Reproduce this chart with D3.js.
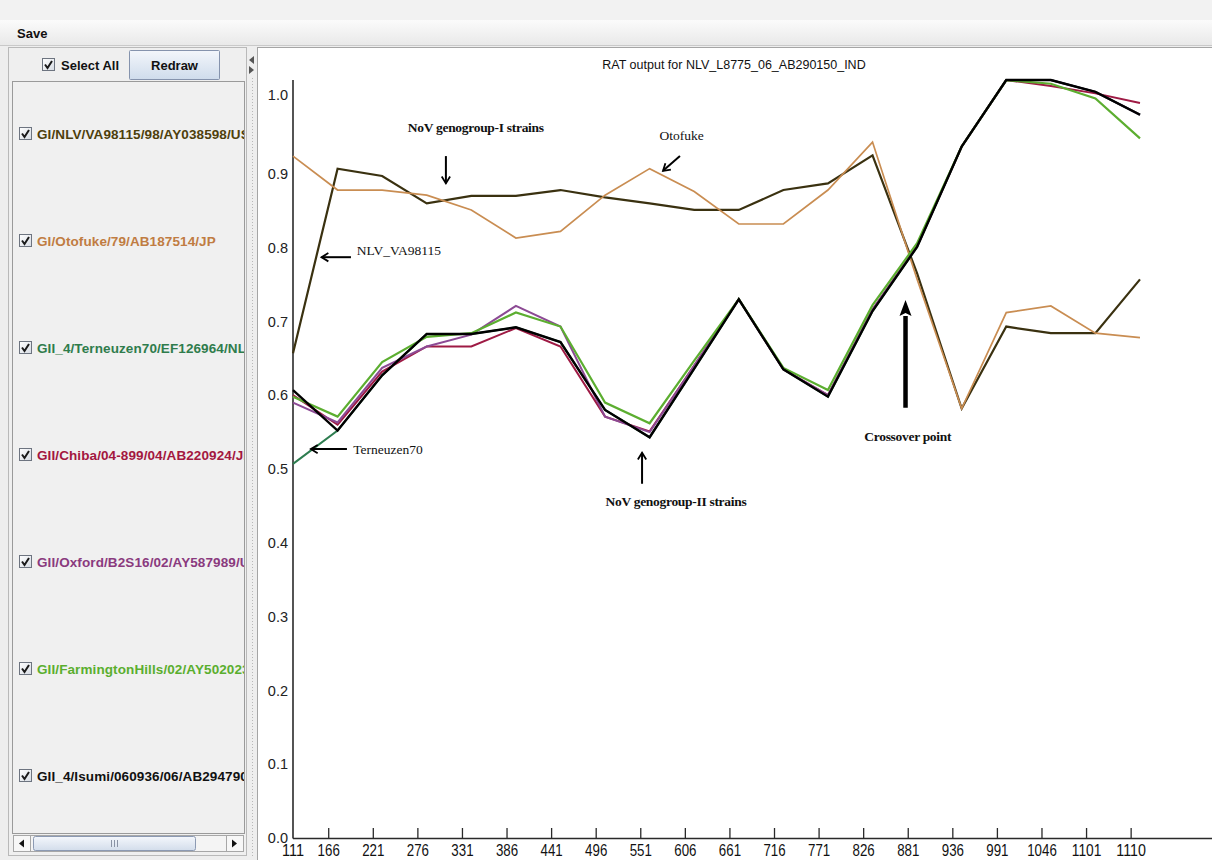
<!DOCTYPE html>
<html>
<head>
<meta charset="utf-8">
<script src="https://cdn.jsdelivr.net/npm/d3@7"></script>
<style>
  html, body { margin: 0; padding: 0; background: #eeeeee; }
  svg { display: block; }
</style>
</head>
<body>
<svg id="app" width="1212" height="860"></svg>
<script>
// ---- data ----------------------------------------------------------------
const seriesNames = [
  "GI/NLV/VA98115/98/AY038598/US",
  "GI/Otofuke/79/AB187514/JP",
  "GII_4/Terneuzen70/EF126964/NL",
  "GII/Chiba/04-899/04/AB220924/JP",
  "GII/Oxford/B2S16/02/AY587989/UK",
  "GII/FarmingtonHills/02/AY502023/US",
  "GII_4/Isumi/060936/06/AB294790/JP"
];
const seriesColors = ["#3a3110", "#c98d52", "#2e7d50", "#9e1a44", "#8c4a94", "#5cae30", "#000000"];
const labelColors  = ["#4e3f0c", "#c07c42", "#2f7c4c", "#a3173f", "#8a3a7e", "#5aae2e", "#111111"];

const nlv        = [0.657, 0.907, 0.897, 0.860, 0.870, 0.870, 0.878, 0.868, 0.860, 0.851, 0.851, 0.878, 0.887, 0.925, 0.765, 0.582, 0.693, 0.684, 0.684, 0.757];
const otofuke    = [0.924, 0.878, 0.878, 0.871, 0.851, 0.813, 0.822, 0.871, 0.907, 0.876, 0.832, 0.832, 0.878, 0.943, 0.757, 0.582, 0.712, 0.721, 0.684, 0.678];
const terneuzen  = [0.507, 0.552, 0.627, 0.683, 0.683, 0.692, 0.672, 0.580, 0.543, 0.636, 0.730, 0.635, 0.598, 0.714, 0.801, 0.937, 1.027, 1.027, 1.011, 0.980];
const chiba      = [0.600, 0.560, 0.632, 0.666, 0.666, 0.691, 0.666, 0.571, 0.551, 0.640, 0.730, 0.635, 0.600, 0.716, 0.802, 0.937, 1.027, 1.019, 1.009, 0.996];
const oxford     = [0.590, 0.563, 0.637, 0.666, 0.682, 0.721, 0.693, 0.571, 0.550, 0.640, 0.730, 0.635, 0.600, 0.716, 0.802, 0.937, 1.027, 1.027, 1.011, 0.980];
const farmington = [0.598, 0.571, 0.645, 0.679, 0.684, 0.712, 0.693, 0.590, 0.562, 0.647, 0.730, 0.637, 0.607, 0.722, 0.806, 0.937, 1.027, 1.022, 1.002, 0.948];
const isumi      = [0.607, 0.552, 0.627, 0.683, 0.683, 0.692, 0.672, 0.580, 0.543, 0.636, 0.730, 0.635, 0.598, 0.714, 0.801, 0.937, 1.027, 1.027, 1.011, 0.980];

const xOriginLabel = "111";
const xTickLabels = ["166","221","276","331","386","441","496","551","606","661","716","771","826","881","936","991","1046","1101","1110"];
const yTickValues = [0.0, 0.1, 0.2, 0.3, 0.4, 0.5, 0.6, 0.7, 0.8, 0.9, 1.0];

const chartTitle = "RAT output for NLV_L8775_06_AB290150_IND";

// annotations placed in data space: [x index, value]
const annotations = [
  { text: "NoV genogroup-I strains", at: [4.10, 0.957], anchor: "middle", bold: true,
    arrow: { from: [3.43, 0.924], to: [3.43, 0.887], thick: false } },
  { text: "Otofuke", at: [8.72, 0.946], anchor: "middle", bold: false,
    arrow: { from: [8.68, 0.924], to: [8.30, 0.904], thick: false } },
  { text: "NLV_VA98115", at: [1.43, 0.790], anchor: "start", bold: false,
    arrow: { from: [1.30, 0.787], to: [0.64, 0.787], thick: false } },
  { text: "Terneuzen70", at: [1.35, 0.521], anchor: "start", bold: false,
    arrow: { from: [1.21, 0.527], to: [0.40, 0.527], thick: false } },
  { text: "NoV genogroup-II strains", at: [8.59, 0.450], anchor: "middle", bold: true,
    arrow: { from: [7.83, 0.480], to: [7.83, 0.522], thick: false } },
  { text: "Crossover point", at: [13.79, 0.538], anchor: "middle", bold: true,
    arrow: { from: [13.74, 0.583], to: [13.74, 0.729], thick: true } }
];

const allSeries = [nlv, otofuke, terneuzen, chiba, oxford, farmington, isumi];
const lineWidths = [2.2, 1.7, 2.0, 2.0, 2.0, 2.2, 2.4];

// ---- layout --------------------------------------------------------------
const W = 1212, H = 860;
const svg = d3.select("#app");
const UI = "'Liberation Sans', Arial, sans-serif";
const SERIF = "'Liberation Serif', 'Times New Roman', serif";

const defs = svg.append("defs");
const gBar = defs.append("linearGradient").attr("id", "menuGrad").attr("x1", 0).attr("y1", 0).attr("x2", 0).attr("y2", 1);
gBar.append("stop").attr("offset", 0).attr("stop-color", "#fbfbfb");
gBar.append("stop").attr("offset", 1).attr("stop-color", "#e9e9e9");
const gBtn = defs.append("linearGradient").attr("id", "btnGrad").attr("x1", 0).attr("y1", 0).attr("x2", 0).attr("y2", 1);
gBtn.append("stop").attr("offset", 0).attr("stop-color", "#f3f6fb");
gBtn.append("stop").attr("offset", 1).attr("stop-color", "#cfdcec");
const gChk = defs.append("linearGradient").attr("id", "chkGrad").attr("x1", 0).attr("y1", 0).attr("x2", 1).attr("y2", 1);
gChk.append("stop").attr("offset", 0).attr("stop-color", "#ffffff");
gChk.append("stop").attr("offset", 1).attr("stop-color", "#d6dbe3");
const gThumb = defs.append("linearGradient").attr("id", "thumbGrad").attr("x1", 0).attr("y1", 0).attr("x2", 0).attr("y2", 1);
gThumb.append("stop").attr("offset", 0).attr("stop-color", "#f4f7fc");
gThumb.append("stop").attr("offset", 1).attr("stop-color", "#d3ddeb");

// window background and menu bar
svg.append("rect").attr("x", 0).attr("y", 0).attr("width", W).attr("height", H).attr("fill", "#eeeeee");
svg.append("rect").attr("x", 0).attr("y", 0).attr("width", W).attr("height", 20).attr("fill", "#f2f2f2");
svg.append("rect").attr("x", 0).attr("y", 20).attr("width", W).attr("height", 25).attr("fill", "url(#menuGrad)");
svg.append("line").attr("x1", 0).attr("x2", W).attr("y1", 45.5).attr("y2", 45.5).attr("stroke", "#c9c9c9");
svg.append("text").attr("x", 17).attr("y", 38).attr("font-family", UI).attr("font-weight", "bold")
  .attr("font-size", 13).attr("fill", "#111").text("Save");

// ---- left panel: series selector -----------------------------------------
const left = svg.append("g");
left.append("rect").attr("x", 8.5).attr("y", 47.5).attr("width", 238).attr("height", 808)
  .attr("fill", "#efefef").attr("stroke", "#b9b9b9");

function checkbox(g, x, y) {
  g.append("rect").attr("x", x + 0.5).attr("y", y + 0.5).attr("width", 12).attr("height", 12)
    .attr("fill", "url(#chkGrad)").attr("stroke", "#6d7480");
  g.append("path").attr("d", `M${x + 3},${y + 6.5} L${x + 5.5},${y + 10} L${x + 10},${y + 3}`)
    .attr("fill", "none").attr("stroke", "#1a1a1a").attr("stroke-width", 2);
}

checkbox(left, 42, 58);
left.append("text").attr("x", 61).attr("y", 70).attr("font-family", UI).attr("font-weight", "bold")
  .attr("font-size", 13).attr("fill", "#111").text("Select All");
left.append("rect").attr("x", 129.5).attr("y", 50.5).attr("width", 90).attr("height", 29)
  .attr("rx", 1).attr("fill", "url(#btnGrad)").attr("stroke", "#8593ad");
left.append("text").attr("x", 174.5).attr("y", 70).attr("text-anchor", "middle").attr("font-family", UI)
  .attr("font-weight", "bold").attr("font-size", 13).attr("fill", "#111").text("Redraw");

// list box with one entry per series
left.append("rect").attr("x", 12.5).attr("y", 81.5).attr("width", 232).attr("height", 752)
  .attr("fill", "#f0f0f0").attr("stroke", "#9a9a9a");
defs.append("clipPath").attr("id", "listClip").append("rect")
  .attr("x", 13).attr("y", 82).attr("width", 231).attr("height", 751);
const list = left.append("g").attr("clip-path", "url(#listClip)");
const rowY = d3.scaleLinear().domain([0, seriesNames.length - 1]).range([134, 776]);
seriesNames.forEach((name, i) => {
  const y = rowY(i);
  checkbox(list, 19, y - 7);
  list.append("text").attr("x", 37).attr("y", y + 5).attr("font-family", UI).attr("font-weight", "bold")
    .attr("font-size", 13.5).attr("letter-spacing", 0.1).attr("fill", labelColors[i]).text(name);
});

// horizontal scrollbar under the list
const sb = left.append("g");
sb.append("rect").attr("x", 13.5).attr("y", 835.5).attr("width", 230).attr("height", 16)
  .attr("fill", "#f4f4f4").attr("stroke", "#a7a7a7");
sb.append("rect").attr("x", 13.5).attr("y", 835.5).attr("width", 17).attr("height", 16)
  .attr("fill", "#f7f7f7").attr("stroke", "#a7a7a7");
sb.append("path").attr("d", "M19,843.5 L24,839.5 L24,847.5 Z").attr("fill", "#111");
sb.append("rect").attr("x", 33.5).attr("y", 836.5).attr("width", 162).attr("height", 14).attr("rx", 2)
  .attr("fill", "url(#thumbGrad)").attr("stroke", "#8c9ab3");
[111, 114, 117].forEach(x => sb.append("line").attr("x1", x + 0.5).attr("x2", x + 0.5)
  .attr("y1", 840).attr("y2", 847).attr("stroke", "#8a93a5"));
sb.append("rect").attr("x", 226.5).attr("y", 835.5).attr("width", 17).attr("height", 16)
  .attr("fill", "#f7f7f7").attr("stroke", "#a7a7a7");
sb.append("path").attr("d", "M237,843.5 L232,839.5 L232,847.5 Z").attr("fill", "#111");

// splitter between panels
svg.append("line").attr("x1", 252.5).attr("x2", 252.5).attr("y1", 78).attr("y2", 858)
  .attr("stroke", "#b8b8b8").attr("stroke-dasharray", "1,2");
svg.append("path").attr("d", "M249,60 L254,56 L254,64 Z").attr("fill", "#555");
svg.append("path").attr("d", "M254,70 L249,66 L249,74 Z").attr("fill", "#555");

// ---- chart panel ---------------------------------------------------------
svg.append("rect").attr("x", 257).attr("y", 47).attr("width", W - 257).attr("height", H - 47).attr("fill", "#ffffff");
svg.append("line").attr("x1", 257).attr("x2", W).attr("y1", 47.5).attr("y2", 47.5).attr("stroke", "#a5a5a5");
svg.append("line").attr("x1", 257.5).attr("x2", 257.5).attr("y1", 47).attr("y2", H).attr("stroke", "#a5a5a5");

const x = d3.scaleLinear().domain([0, nlv.length - 1]).range([293, 1140]);
const y = d3.scaleLinear().domain([0, 1]).range([838, 100]);
const tickShift = 0.79; // tick marks sit slightly left of each window's plotted point

svg.append("text").attr("x", 734).attr("y", 69).attr("text-anchor", "middle").attr("font-family", UI)
  .attr("font-size", 12.5).attr("fill", "#111").text(chartTitle);

// axes
const axisG = svg.append("g");
axisG.append("line").attr("x1", 293).attr("x2", 293).attr("y1", 80).attr("y2", 838.5)
  .attr("stroke", "#2a2a2a").attr("stroke-width", 1.6);
axisG.append("line").attr("x1", 293).attr("x2", W).attr("y1", 838.5).attr("y2", 838.5)
  .attr("stroke", "#2a2a2a").attr("stroke-width", 1.6);

const xAxis = d3.axisBottom(x)
  .tickValues(xTickLabels.map((_, j) => j + tickShift))
  .tickFormat((_, j) => xTickLabels[j])
  .tickSizeInner(-10).tickSizeOuter(0).tickPadding(0);
const gx = svg.append("g").attr("transform", "translate(0,838)").call(xAxis);
gx.select(".domain").remove();
gx.selectAll(".tick line").attr("stroke", "#2a2a2a").attr("stroke-width", 1.3);
gx.selectAll(".tick text")
  .attr("y", 18).attr("dy", 0)
  .attr("font-family", UI).attr("font-size", 16.5).attr("fill", "#111")
  .each(function (d, j) {
    d3.select(this).attr("textLength", xTickLabels[j].length * 7.4).attr("lengthAdjust", "spacingAndGlyphs");
  });
svg.append("text").attr("x", x(0)).attr("y", 856).attr("text-anchor", "middle").attr("font-family", UI)
  .attr("font-size", 16.5).attr("fill", "#111").attr("textLength", 22).attr("lengthAdjust", "spacingAndGlyphs")
  .text(xOriginLabel);

const yAxis = d3.axisLeft(y).tickValues(yTickValues).tickFormat(d3.format(".1f")).tickSize(0).tickPadding(5);
const gy = svg.append("g").attr("transform", "translate(293,0)").call(yAxis);
gy.select(".domain").remove();
gy.selectAll(".tick text").attr("font-family", UI).attr("font-size", 14.5).attr("fill", "#222")
  .attr("y", d => d === 1 ? -5 : 0);

// series lines
const line = d3.line().x((d, i) => x(i)).y(d => y(d));
svg.append("g").selectAll("path").data(allSeries).join("path")
  .attr("d", line)
  .attr("fill", "none")
  .attr("stroke", (d, i) => seriesColors[i])
  .attr("stroke-width", (d, i) => lineWidths[i])
  .attr("stroke-linejoin", "miter");

// annotations
const ann = svg.append("g");
annotations.forEach(a => {
  ann.append("text")
    .attr("x", x(a.at[0])).attr("y", y(a.at[1]))
    .attr("text-anchor", a.anchor)
    .attr("font-family", SERIF)
    .attr("font-weight", a.bold ? "bold" : "normal")
    .attr("font-size", 13.5)
    .attr("letter-spacing", a.bold ? -0.3 : 0)
    .attr("fill", "#111")
    .text(a.text);
  const x1 = x(a.arrow.from[0]), y1 = y(a.arrow.from[1]);
  const x2 = x(a.arrow.to[0]), y2 = y(a.arrow.to[1]);
  const ang = Math.atan2(y2 - y1, x2 - x1);
  if (a.arrow.thick) {
    const hl = 16, hw = 6;
    const bx = x2 - hl * Math.cos(ang), by = y2 - hl * Math.sin(ang);
    ann.append("line").attr("x1", x1).attr("y1", y1).attr("x2", bx).attr("y2", by)
      .attr("stroke", "#000").attr("stroke-width", 4.5);
    const px = -Math.sin(ang), py = Math.cos(ang);
    ann.append("path")
      .attr("d", `M${x2},${y2} L${bx + hw * px},${by + hw * py} L${bx + 3 * Math.cos(ang)},${by + 3 * Math.sin(ang)} L${bx - hw * px},${by - hw * py} Z`)
      .attr("fill", "#000");
  } else {
    ann.append("line").attr("x1", x1).attr("y1", y1).attr("x2", x2).attr("y2", y2)
      .attr("stroke", "#000").attr("stroke-width", 2);
    const hl = 8, spread = 0.55;
    const p1 = [x2 - hl * Math.cos(ang - spread), y2 - hl * Math.sin(ang - spread)];
    const p2 = [x2 - hl * Math.cos(ang + spread), y2 - hl * Math.sin(ang + spread)];
    ann.append("path").attr("d", `M${p1[0]},${p1[1]} L${x2},${y2} L${p2[0]},${p2[1]}`)
      .attr("fill", "none").attr("stroke", "#000").attr("stroke-width", 1.8);
  }
});
</script>
</body>
</html>
